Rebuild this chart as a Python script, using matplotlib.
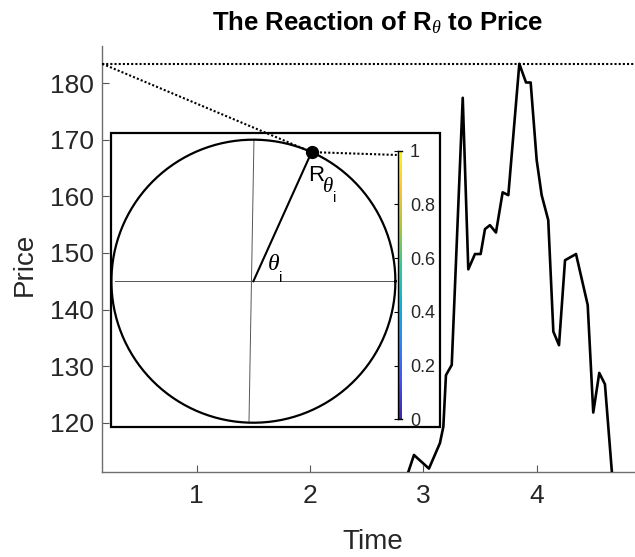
import numpy as np
import matplotlib
matplotlib.use("Agg")
import matplotlib.pyplot as plt
from matplotlib.colors import LinearSegmentedColormap
from matplotlib.patches import Rectangle

plt.rcParams["font.family"] = ["Liberation Sans", "DejaVu Sans"]
plt.rcParams["mathtext.fontset"] = "custom"
plt.rcParams["mathtext.rm"] = "Liberation Sans"
plt.rcParams["mathtext.it"] = "Liberation Serif:italic"

# price path (parts outside the axes are clipped)
time = [2.855, 2.866, 2.916, 3.048, 3.145, 3.175, 3.198, 3.249, 3.346, 3.395,
        3.454, 3.504, 3.542, 3.586, 3.639, 3.698, 3.748, 3.845, 3.904, 3.945,
        3.998, 4.042, 4.100, 4.145, 4.195, 4.248, 4.345, 4.448, 4.497, 4.550,
        4.600, 4.660, 4.670]
price = [109.5, 111.3, 114.3, 111.9, 116.4, 119.3, 128.4, 130.2, 177.4, 147.1,
         149.8, 149.8, 154.2, 154.9, 153.6, 160.7, 160.2, 183.4, 180.1, 180.1,
         166.4, 160.2, 155.8, 136.1, 133.7, 148.7, 149.8, 140.8, 121.8, 128.8,
         126.8, 111.6, 109.5]

# polar sketch in the inset
centre = (1.5, 145.0)
radius_x, radius_y = 1.252, 25.0
theta_i = 65.8  # degrees
box_x = (0.2443, 3.1455)
box_y = (119.19, 171.13)
link_end = (2.764, 167.3)

xticks = [1, 2, 3, 4]
yticks = [120, 130, 140, 150, 160, 170, 180]
cbar_ticks = [0, 0.2, 0.4, 0.6, 0.8, 1]
cbar_labels = ["0", "0.2", "0.4", "0.6", "0.8", "1"]

parula = LinearSegmentedColormap.from_list("parula", [
    (0.2422, 0.1504, 0.6603), (0.2810, 0.3228, 0.9579), (0.1786, 0.5289, 0.9682),
    (0.0689, 0.6948, 0.8394), (0.2161, 0.7843, 0.5923), (0.6720, 0.7793, 0.2227),
    (0.9970, 0.7659, 0.2199), (0.9769, 0.9839, 0.0805)])

W, H = 635, 557
fig = plt.figure(figsize=(W / 100, H / 100), dpi=100)
ax = fig.add_axes([102.3 / W, 1 - 471.7 / H, (645 - 102.3) / W, (471.7 - 45.7) / H])

ax.plot(time, price, color="black", lw=1.9, zorder=3)

xmin = 0.1676
ax.set_xlim(xmin, 1 + (645 - 196.7) / 113.4)
ax.set_ylim(111.35, 186.6)

top = max(price)
dot_x = centre[0] + radius_x * np.cos(np.radians(theta_i))
dot_y = centre[1] + radius_y * np.sin(np.radians(theta_i))
dots = (0, (1, 1))
ax.plot([xmin, 5.2], [top, top], color="black", lw=1.5, ls=dots, zorder=4)
ax.plot([xmin, dot_x], [top, dot_y], color="black", lw=1.5, ls=dots, zorder=4)
ax.plot([dot_x, link_end[0]], [dot_y, link_end[1]], color="black", lw=1.5, ls=dots, zorder=4)

# inset box
ax.add_patch(Rectangle((box_x[0], box_y[0]), box_x[1] - box_x[0], box_y[1] - box_y[0],
                       fill=False, ec="black", lw=1.6, zorder=5))
t = np.linspace(0, 2 * np.pi, 400)
ax.plot(centre[0] + radius_x * np.cos(t), centre[1] + radius_y * np.sin(t),
        color="black", lw=1.6, zorder=5)
ax.plot([1.505, 1.461], [170, 120], color="#555555", lw=0.7, zorder=4)
ax.plot([0.28, 2.74], [centre[1], centre[1]], color="#555555", lw=0.7, zorder=4)
ax.plot([centre[0], dot_x], [centre[1], dot_y], color="black", lw=1.5, zorder=5)
ax.plot([dot_x], [dot_y], "o", color="black", ms=8.5, zorder=6)

# labels R_theta_i and theta_i, built from pieces like the original
serif_it = dict(family="Liberation Serif", style="italic")
ax.text(1.984, 162.76, "R", fontsize=16, ha="left", va="baseline", zorder=6)
ax.text(2.118, 160.8, "\u03b8", fontsize=15, ha="left", va="baseline", zorder=6, **serif_it)
ax.text(2.201, 159.0, "i", fontsize=10.5, ha="left", va="baseline", zorder=6)
ax.text(1.628, 147.0, "\u03b8", fontsize=17, ha="left", va="baseline", zorder=6, **serif_it)
ax.text(1.728, 144.9, "i", fontsize=11, ha="left", va="baseline", zorder=6)

ax.set_xticks(xticks)
ax.set_yticks(yticks)
ax.tick_params(direction="in", length=5, width=0.8, color="#555555",
               labelsize=19, labelcolor="#262626", pad=6)
ax.tick_params(axis="x", pad=9)
for s in ["top", "right"]:
    ax.spines[s].set_visible(False)
for s in ["left", "bottom"]:
    ax.spines[s].set_color("#6e6e6e")
    ax.spines[s].set_linewidth(1.0)

# colour bar strip
cax = fig.add_axes([398 / W, 1 - 419.3 / H, 3.5 / W, 268.6 / H])
cax.imshow(np.linspace(0, 1, 256).reshape(-1, 1), cmap=parula, aspect="auto",
           origin="lower", extent=[0, 1, 0, 1])
cax.set_xticks([])
cax.set_yticks(cbar_ticks)
cax.set_yticklabels(cbar_labels)
cax.tick_params(axis="y", left=True, right=False, labelleft=False, labelright=True,
                direction="out", length=3, width=0.8, labelsize=13,
                labelcolor="#262626", pad=3)
cax.spines["right"].set_visible(False)
for s in ["left", "top", "bottom"]:
    cax.spines[s].set_linewidth(1.0)

fig.text(378 / W, 1 - 30 / H, r"The Reaction of R$_{\theta}$ to Price", fontsize=18.5,
         fontweight="bold", ha="center", va="baseline")
fig.text(373 / W, 1 - 549.3 / H, "Time", fontsize=20, color="#262626",
         ha="center", va="baseline")
fig.text(25 / W, 1 - 264 / H, "Price", fontsize=20, color="#262626",
         rotation=90, ha="center", va="center")

plt.savefig("out.png", dpi=100)
